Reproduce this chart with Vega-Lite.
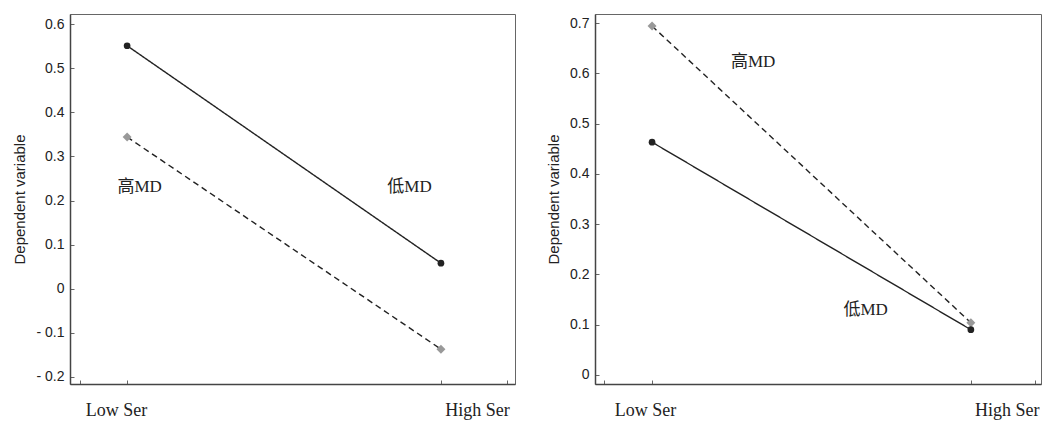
{
  "$schema": "https://vega.github.io/schema/vega-lite/v6.json",
  "background": "white",
  "padding": {"left": 12, "top": 13, "right": 0, "bottom": 0},
  "spacing": 30,
  "datasets": {
    "L": [
      {"group": "高MD", "x": 1, "y": 0.344},
      {"group": "高MD", "x": 2, "y": -0.137},
      {"group": "低MD", "x": 1, "y": 0.551},
      {"group": "低MD", "x": 2, "y": 0.058}
    ],
    "Ltext": [
      {"label": "高MD", "x": 1.04, "y": 0.231},
      {"label": "低MD", "x": 1.9, "y": 0.231}
    ],
    "R": [
      {"group": "高MD", "x": 1, "y": 0.694},
      {"group": "高MD", "x": 2, "y": 0.104},
      {"group": "低MD", "x": 1, "y": 0.463},
      {"group": "低MD", "x": 2, "y": 0.09}
    ],
    "Rtext": [
      {"label": "高MD", "x": 1.317, "y": 0.623},
      {"label": "低MD", "x": 1.67, "y": 0.129}
    ]
  },
  "config": {
    "view": {"stroke": "#666", "strokeWidth": 1},
    "axis": {
      "grid": false,
      "domainColor": "#444",
      "domainWidth": 1.5,
      "tickColor": "#666",
      "tickSize": -4,
      "labelColor": "#222",
      "titleColor": "#222"
    }
  },
  "hconcat": [
    {
      "width": 445,
      "height": 370,
      "layer": [
        {
          "data": {"name": "L"},
          "mark": {"type": "line", "color": "#222", "strokeWidth": 1.4},
          "encoding": {
            "x": {"field": "x", "type": "quantitative", "scale": {"domain": [0.818, 2.236], "nice": false, "zero": false},
              "axis": {"title": null, "values": [0.85, 1, 2, 2.21], "labelExpr": "datum.value == 1 ? 'Low Ser' : (datum.value == 2 ? 'High Ser' : '')", "labelFont": "Liberation Serif", "labelFontSize": 18, "labelPadding": 21, "labelOffset": {"condition": {"test": "datum.value == 2", "value": 36}, "value": -11}}},
            "y": {"field": "y", "type": "quantitative", "scale": {"domain": [-0.216, 0.623], "nice": false, "zero": false},
              "axis": {"title": "Dependent variable", "values": [-0.2, -0.1, 0, 0.1, 0.2, 0.3, 0.4, 0.5, 0.6], "labelExpr": "datum.value < 0 ? '- ' + format(-datum.value, '.1f') : (datum.value == 0 ? '0' : format(datum.value, '.1f'))", "labelFont": "Liberation Sans", "labelFontSize": 14, "labelPadding": 10, "titleFont": "Liberation Sans", "titleFontSize": 15, "titleFontWeight": "normal", "titlePadding": 8}},
            "strokeDash": {"field": "group", "type": "nominal", "scale": {"domain": ["高MD", "低MD"], "range": [[6, 4], [1, 0]]}, "legend": null}
          }
        },
        {
          "data": {"name": "L"},
          "mark": {"type": "point", "filled": true, "opacity": 1},
          "encoding": {
            "x": {"field": "x", "type": "quantitative"},
            "y": {"field": "y", "type": "quantitative"},
            "shape": {"field": "group", "type": "nominal", "scale": {"domain": ["高MD", "低MD"], "range": ["diamond", "circle"]}, "legend": null},
            "size": {"field": "group", "type": "nominal", "scale": {"domain": ["高MD", "低MD"], "range": [80, 45]}, "legend": null},
            "color": {"field": "group", "type": "nominal", "scale": {"domain": ["高MD", "低MD"], "range": ["#999999", "#222222"]}, "legend": null}
          }
        },
        {
          "data": {"name": "Ltext"},
          "mark": {"type": "text", "font": "Liberation Serif, Noto Sans CJK SC", "fontSize": 17, "color": "#222"},
          "encoding": {
            "x": {"field": "x", "type": "quantitative"},
            "y": {"field": "y", "type": "quantitative"},
            "text": {"field": "label"}
          }
        }
      ]
    },
    {
      "width": 446,
      "height": 370,
      "layer": [
        {
          "data": {"name": "R"},
          "mark": {"type": "line", "color": "#222", "strokeWidth": 1.4},
          "encoding": {
            "x": {"field": "x", "type": "quantitative", "scale": {"domain": [0.821, 2.22], "nice": false, "zero": false},
              "axis": {"title": null, "values": [0.85, 1, 2, 2.2], "labelExpr": "datum.value == 1 ? 'Low Ser' : (datum.value == 2 ? 'High Ser' : '')", "labelFont": "Liberation Serif", "labelFontSize": 18, "labelPadding": 21, "labelOffset": {"condition": {"test": "datum.value == 2", "value": 36}, "value": -7}}},
            "y": {"field": "y", "type": "quantitative", "scale": {"domain": [-0.018, 0.718], "nice": false, "zero": false},
              "axis": {"title": "Dependent variable", "values": [0, 0.1, 0.2, 0.3, 0.4, 0.5, 0.6, 0.7], "labelExpr": "datum.value == 0 ? '0' : format(datum.value, '.1f')", "labelFont": "Liberation Sans", "labelFontSize": 14, "labelPadding": 10, "titleFont": "Liberation Sans", "titleFontSize": 15, "titleFontWeight": "normal", "titlePadding": 8}},
            "strokeDash": {"field": "group", "type": "nominal", "scale": {"domain": ["高MD", "低MD"], "range": [[6, 4], [1, 0]]}, "legend": null}
          }
        },
        {
          "data": {"name": "R"},
          "mark": {"type": "point", "filled": true, "opacity": 1},
          "encoding": {
            "x": {"field": "x", "type": "quantitative"},
            "y": {"field": "y", "type": "quantitative"},
            "shape": {"field": "group", "type": "nominal", "scale": {"domain": ["高MD", "低MD"], "range": ["diamond", "circle"]}, "legend": null},
            "size": {"field": "group", "type": "nominal", "scale": {"domain": ["高MD", "低MD"], "range": [80, 45]}, "legend": null},
            "color": {"field": "group", "type": "nominal", "scale": {"domain": ["高MD", "低MD"], "range": ["#999999", "#222222"]}, "legend": null}
          }
        },
        {
          "data": {"name": "Rtext"},
          "mark": {"type": "text", "font": "Liberation Serif, Noto Sans CJK SC", "fontSize": 17, "color": "#222"},
          "encoding": {
            "x": {"field": "x", "type": "quantitative"},
            "y": {"field": "y", "type": "quantitative"},
            "text": {"field": "label"}
          }
        }
      ]
    }
  ]
}
